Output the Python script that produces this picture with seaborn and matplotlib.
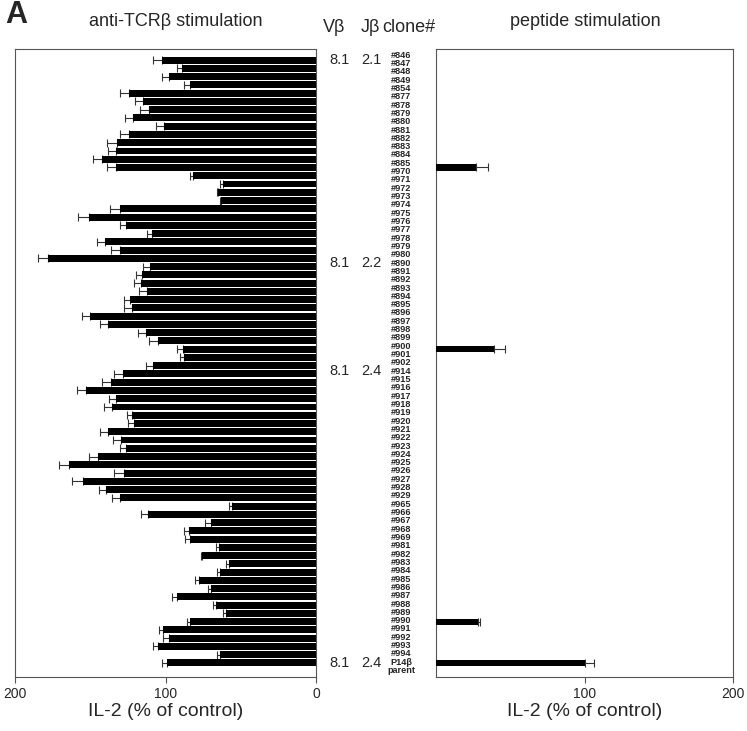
import numpy as np
import pandas as pd
import matplotlib
matplotlib.use("Agg")
import matplotlib.pyplot as plt
import matplotlib.transforms as mtransforms
import seaborn as sns

# ---------------- data ----------------
clones = ["#846", "#847", "#848", "#849", "#854", "#877", "#878", "#879", "#880", "#881",
          "#882", "#883", "#884", "#885", "#970", "#971", "#972", "#973", "#974", "#975",
          "#976", "#977", "#978", "#979", "#980",
          "#890", "#891", "#892", "#893", "#894", "#895", "#896", "#897", "#898", "#899",
          "#900", "#901", "#902",
          "#914", "#915", "#916", "#917", "#918", "#919", "#920", "#921", "#922", "#923",
          "#924", "#925", "#926", "#927", "#928", "#929",
          "#965", "#966", "#967", "#968", "#969",
          "#981", "#982", "#983", "#984", "#985", "#986", "#987", "#988", "#989", "#990",
          "#991", "#992", "#993", "#994", "P14β"]

tcr_values = [102, 89, 98, 84, 124.5, 115, 111, 121.5, 101, 124,
              132.5, 133, 142.5, 133, 82, 62, 65, 63, 130, 151,
              126, 109, 140, 130, 178,
              110, 115.5, 116.5, 112, 123.5, 122, 150, 138, 113, 105,
              88.5, 87.5, 108.5,
              128.5, 136.5, 153, 133, 135.5, 122, 121, 138.5, 129.5, 126,
              145, 164, 127.5, 155, 139.5, 130,
              55.5, 111.5, 70, 84.5, 83.5,
              64.5, 75.5, 58, 63.5, 77.5, 70, 92.5, 66.5, 60, 83.5,
              101.5, 98, 105, 64, 99]

tcr_err_top = [108, 92.5, 102.5, 87.5, 130, 120, 117, 127, 106.5, 130,
               139, 138.5, 148, 139, 84, 63.5, 65.5, 64, 137, 158,
               130, 112, 145.5, 136, 185,
               115, 119.5, 121, 117.5, 127.5, 127.5, 155.5, 143.5, 118.5, 111,
               92.5, 90.5, 113,
               134, 142.5, 159, 137.5, 141, 125.5, 125, 143.5, 135, 130.5,
               150.5, 171, 134, 162, 144, 135.5,
               58, 116, 73.5, 88, 87,
               66.5, 76.5, 60, 65.5, 80.5, 72, 95.5, 68.5, 61.5, 85.5,
               104.5, 101.5, 108, 66, 102.5]

pep_clones = ["#885", "#900", "#990", "P14β"]
pep_values = [27, 39, 28, 100.5]
pep_err_top = [35, 46.5, 29.5, 106.5]

vbeta = ["8.1", "8.1", "8.1", "8.1"]
jbeta = ["2.1", "2.2", "2.4", "2.4"]
group_first = ["#846", "#890", "#914", "P14β"]

# ---------------- style ----------------
sns.set_style("white")
plt.rcParams["font.family"] = ["Liberation Sans", "DejaVu Sans"]

W, H = 747, 731
fig = plt.figure(figsize=(W / 100, H / 100), dpi=100)

def fx(px):
    return px / W

def fy(px):
    return 1 - px / H

axL = fig.add_axes([fx(15), fy(677), fx(316) - fx(15), fy(49) - fy(677)])
axR = fig.add_axes([fx(436), fy(677), fx(733) - fx(436), fy(49) - fy(677)])

n = len(clones)
pos = np.arange(n)

df_tcr = pd.DataFrame({"clone": clones, "il2": tcr_values})
df_pep = pd.DataFrame({"clone": pep_clones, "il2": pep_values})

sns.barplot(data=df_tcr, x="il2", y="clone", order=clones, orient="h",
            color="black", width=0.84, errorbar=None, ax=axL,
            saturation=1, edgecolor="none")
sns.barplot(data=df_pep, x="il2", y="clone", order=clones, orient="h",
            color="black", width=0.75, errorbar=None, ax=axR,
            saturation=1, edgecolor="none")

for ax in (axL, axR):
    for p in ax.patches:
        p.set_zorder(3)

# error bars (one-sided, outward)
tv = np.array(tcr_values, dtype=float)
te = np.array(tcr_err_top, dtype=float)
axL.errorbar(tv, pos, xerr=[np.zeros(n), te - tv], fmt="none", ecolor="#333333",
             elinewidth=0.8, capsize=2.6, capthick=0.8, zorder=2)

pidx = np.array([clones.index(c) for c in pep_clones])
pv = np.array(pep_values, dtype=float)
pe = np.array(pep_err_top, dtype=float)
axR.errorbar(pv, pidx, xerr=[np.zeros(len(pv)), pe - pv], fmt="none", ecolor="#333333",
             elinewidth=0.8, capsize=2.6, capthick=0.8, zorder=2)

for ax in (axL, axR):
    ax.set_ylim(n - 1 + 1.7, -1.35)
    ax.set_yticks([])
    ax.set_ylabel("")
    ax.set_xlabel("IL-2 (% of control)", fontsize=14, labelpad=2)
    for s in ax.spines.values():
        s.set_visible(True)
        s.set_color("#555555")
        s.set_linewidth(0.8)
    ax.tick_params(axis="x", direction="out", length=4, width=0.8, color="#555555",
                   labelsize=10, pad=3, bottom=True)

axL.set_xlim(200, 0)
axL.set_xticks([200, 100, 0])
axR.set_xlim(0, 200)
axR.set_xticks([100, 200])

# ---------------- texts ----------------
fig.text(fx(5), fy(15), "A", fontsize=22, fontweight="bold", ha="left", va="center")
fig.text(fx(176), fy(21), "anti-TCRβ stimulation", fontsize=13, ha="center", va="center")
fig.text(fx(585), fy(21), "peptide stimulation", fontsize=13, ha="center", va="center")
fig.text(fx(334), fy(28), "Vβ", fontsize=13, ha="center", va="center")
fig.text(fx(370), fy(28), "Jβ", fontsize=13, ha="center", va="center")
fig.text(fx(409), fy(28), "clone#", fontsize=13, ha="center", va="center")

trans = mtransforms.blended_transform_factory(fig.transFigure, axL.transData)
label_pos = pos * 1.007 - 0.6
for i, c in enumerate(clones):
    yy = label_pos[i]
    if c == "P14β":
        yy = i - 0.05
    axL.text(fx(401), yy, c, transform=trans, fontsize=6.6, fontweight="bold",
             ha="center", va="center", clip_on=False)
axL.text(fx(401), n - 1 + 0.95, "parent", transform=trans, fontsize=6.6,
         fontweight="bold", ha="center", va="center", clip_on=False)

for v, j, g in zip(vbeta, jbeta, group_first):
    i = clones.index(g)
    yy = label_pos[i] if g != "P14β" else i - 0.05
    if i == 0:
        yy = 0
    axL.text(fx(340), yy, v, transform=trans, fontsize=10.5, ha="center", va="center",
             clip_on=False)
    axL.text(fx(371), yy, j, transform=trans, fontsize=10.5, ha="center", va="center",
             clip_on=False)

fig.savefig("out.png", dpi=100)
